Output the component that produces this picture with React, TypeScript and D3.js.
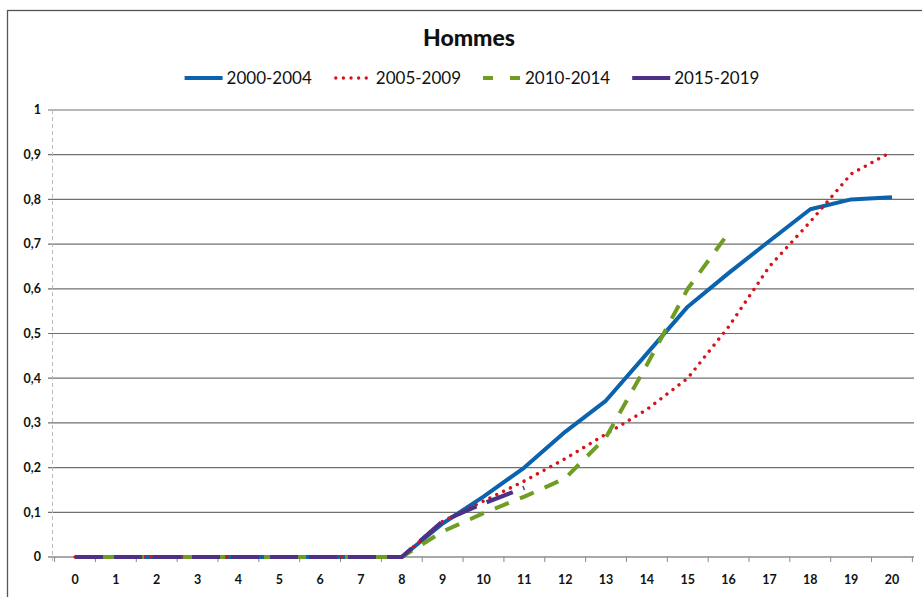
import React, { useEffect, useRef } from "react";
import * as d3 from "d3";

const ages = d3.range(0, 21);
const yTicks = [0, 0.1, 0.2, 0.3, 0.4, 0.5, 0.6, 0.7, 0.8, 0.9, 1];
const yTickLabels = ["0", "0,1", "0,2", "0,3", "0,4", "0,5", "0,6", "0,7", "0,8", "0,9", "1"];

const s2000 = [0, 0, 0, 0, 0, 0, 0, 0, 0, 0.075, 0.135, 0.2, 0.28, 0.35, 0.455, 0.56, 0.635, 0.707, 0.778, 0.8, 0.805];
const s2005 = [0, 0, 0, 0, 0, 0, 0, 0, 0, 0.08, 0.125, 0.17, 0.22, 0.275, 0.33, 0.4, 0.515, 0.65, 0.75, 0.857, 0.907];
const s2010 = [0, 0, 0, 0, 0, 0, 0, 0, 0, 0.057, 0.098, 0.135, 0.176, 0.268, 0.43, 0.6, 0.725, null, null, null, null];
const s2015 = [0, 0, 0, 0, 0, 0, 0, 0, 0, 0.08, 0.12, 0.155, null, null, null, null, null, null, null, null, null];

const seriesNames = ["2000-2004", "2005-2009", "2010-2014", "2015-2019"];

function App() {
  const svgRef = useRef<SVGSVGElement>(null);

  useEffect(() => {
    if (!svgRef.current) return;
    const width = 922;
    const height = 597;

    const series = [
      { name: seriesNames[0], values: s2000, color: "#0b63ae", width: 4, dash: null, cap: "butt" },
      { name: seriesNames[1], values: s2005, color: "#d8121b", width: 3.4, dash: "0.01 7.6", cap: "round" },
      { name: seriesNames[2], values: s2010, color: "#6f9d22", width: 4, dash: "15 12", cap: "butt" },
      { name: seriesNames[3], values: s2015, color: "#4d3186", width: 4.2, dash: "28 11", cap: "butt" },
    ];

    const svg = d3.select(svgRef.current).attr("width", width).attr("height", height);
    svg.selectAll("*").remove();

    svg.append("rect").attr("width", width).attr("height", height).attr("fill", "#fff");

    // chart frame (runs past the window on the right and bottom)
    svg
      .append("rect")
      .attr("x", 7.5)
      .attr("y", 10.5)
      .attr("width", 940)
      .attr("height", 620)
      .attr("fill", "none")
      .attr("stroke", "#555")
      .attr("stroke-width", 1.3);

    const x = d3.scalePoint<number>().domain(ages).range([54.6, 912.4]).padding(0.5);
    const y = d3.scaleLinear().domain([0, 1]).range([557, 110]);
    const step = x.step();

    // gridlines
    svg
      .append("g")
      .selectAll("line")
      .data(yTicks)
      .join("line")
      .attr("x1", 48)
      .attr("x2", 914)
      .attr("y1", (d) => y(d))
      .attr("y2", (d) => y(d))
      .attr("stroke", (d) => (d === 0 ? "#555" : "#707070"))
      .attr("stroke-width", 1.2);

    // y axis line
    svg
      .append("line")
      .attr("x1", 52.5)
      .attr("x2", 52.5)
      .attr("y1", y(1))
      .attr("y2", y(0) + 4)
      .attr("stroke", "#bbb")
      .attr("stroke-dasharray", "4 3");

    // x ticks between categories
    svg
      .append("g")
      .selectAll("line")
      .data(d3.range(0, ages.length + 1))
      .join("line")
      .attr("x1", (i) => 54.6 + i * step)
      .attr("x2", (i) => 54.6 + i * step)
      .attr("y1", y(0))
      .attr("y2", y(0) + 5)
      .attr("stroke", "#888");

    svg
      .append("g")
      .selectAll("text")
      .data(yTicks)
      .join("text")
      .attr("x", 41)
      .attr("y", (d) => y(d))
      .attr("dy", "0.35em")
      .attr("text-anchor", "end")
      .attr("font-family", "Lato, 'Open Sans', sans-serif")
      .attr("font-weight", "bold")
      .attr("font-size", 12.5)
      .attr("fill", "#111")
      .text((_, i) => yTickLabels[i]);

    svg
      .append("g")
      .selectAll("text")
      .data(ages)
      .join("text")
      .attr("x", (d) => x(d)!)
      .attr("y", 584)
      .attr("text-anchor", "middle")
      .attr("font-family", "Lato, 'Open Sans', sans-serif")
      .attr("font-weight", "bold")
      .attr("font-size", 12.5)
      .attr("fill", "#111")
      .text((d) => d);

    const line = d3
      .line<number | null>()
      .defined((d) => d !== null)
      .x((_, i) => x(ages[i])!)
      .y((d) => y(d as number));

    series.forEach((s) => {
      const p = svg
        .append("path")
        .attr("d", line(s.values))
        .attr("fill", "none")
        .attr("stroke", s.color)
        .attr("stroke-width", s.width)
        .attr("stroke-linecap", s.cap)
        .attr("stroke-linejoin", "round");
      if (s.dash) p.attr("stroke-dasharray", s.dash);
    });

    // title
    svg
      .append("text")
      .attr("x", 469)
      .attr("y", 46)
      .attr("text-anchor", "middle")
      .attr("font-family", "Lato, 'Open Sans', sans-serif")
      .attr("font-weight", 900)
      .attr("font-size", 23)
      .attr("fill", "#111")
      .text("Hommes");

    // legend
    const legend = svg.append("g");
    let cx = 0;
    series.forEach((s) => {
      const g = legend.append("g").attr("transform", `translate(${cx},0)`);
      const sample = g
        .append("line")
        .attr("x1", 0)
        .attr("x2", 38)
        .attr("y1", 78)
        .attr("y2", 78)
        .attr("stroke", s.color)
        .attr("stroke-width", s.width)
        .attr("stroke-linecap", s.cap);
      if (s.name === seriesNames[1]) sample.attr("stroke-dasharray", "0.01 7.6").attr("x1", 2);
      if (s.name === seriesNames[2]) sample.attr("stroke-dasharray", "10 17");
      const t = g
        .append("text")
        .attr("x", 42)
        .attr("y", 84)
        .attr("font-family", "Lato, 'Open Sans', sans-serif")
        .attr("font-size", 17)
        .attr("fill", "#111")
        .text(s.name);
      const tw = (t.node() as SVGTextElement).getComputedTextLength();
      cx += 42 + tw + 22;
    });
    const total = cx - 22;
    legend.attr("transform", `translate(${472 - total / 2},0)`);
  }, []);

  return (
    <div style={{ position: "absolute", left: 0, top: 0, width: 922, height: 597 }}>
      <svg ref={svgRef} style={{ display: "block" }} />
    </div>
  );
}

export default App;
